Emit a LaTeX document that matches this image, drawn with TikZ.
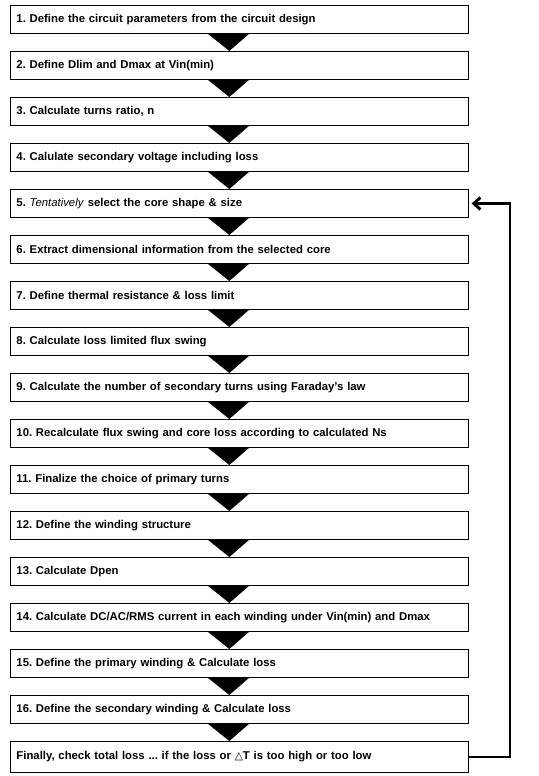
\documentclass[tikz,border=0pt]{standalone}
\usepackage{fontspec}
\setmainfont{Liberation Sans}
\newfontfamily\symfont{DejaVu Sans}
\usetikzlibrary{arrows.meta,positioning,calc}
\frenchspacing

\begin{document}
\begin{tikzpicture}[
  font=\fontsize{8.5pt}{10pt}\selectfont\bfseries,
  node distance=12.8pt,
  stepbox/.style={draw, line width=0.7pt, align=left, text width=334.5pt, inner xsep=4.5pt, inner ysep=0pt, minimum height=21pt, anchor=north west},
  funnel/.style={fill=black},
  fbarrow/.style={-{Straight Barb[length=5pt,width=9pt]}, line width=2.2pt, shorten >=2pt}
]
\useasboundingbox (0,0) rectangle (404.25pt,-582pt);

\node[stepbox] (s1) at (7.5pt,-3.75pt) {1. Define the circuit parameters from the circuit design};
\node[stepbox, below=of s1] (s2) {2. Define Dlim and Dmax at Vin(min)};
\node[stepbox, below=of s2] (s3) {3. Calculate turns ratio, n};
\node[stepbox, below=of s3] (s4) {4. Calulate secondary voltage including loss};
\node[stepbox, below=of s4] (s5) {5. \textmd{\textit{Tentatively}} select the core shape \& size};
\node[stepbox, below=of s5] (s6) {6. Extract dimensional information from the selected core};
\node[stepbox, below=of s6] (s7) {7. Define thermal resistance \& loss limit};
\node[stepbox, below=of s7] (s8) {8. Calculate loss limited flux swing};
\node[stepbox, below=of s8] (s9) {9. Calculate the number of secondary turns using Faraday's law};
\node[stepbox, below=of s9] (s10) {10. Recalculate flux swing and core loss according to calculated Ns};
\node[stepbox, below=of s10] (s11) {11. Finalize the choice of primary turns};
\node[stepbox, below=of s11] (s12) {12. Define the winding structure};
\node[stepbox, below=of s12] (s13) {13. Calculate Dpen};
\node[stepbox, below=of s13] (s14) {14. Calculate DC/AC/RMS current in each winding under Vin(min) and Dmax};
\node[stepbox, below=of s14] (s15) {15. Define the primary winding \& Calculate loss};
\node[stepbox, below=of s15] (s16) {16. Define the secondary winding \& Calculate loss};
\node[stepbox, below=of s16, minimum height=23.3pt] (s17) {Finally, check total loss ... if the loss or {\symfont\mdseries\fontsize{8pt}{10pt}\selectfont △}T is too high or too low};

% black funnels between the steps
\foreach \a/\b in {s1/s2,s2/s3,s3/s4,s4/s5,s5/s6,s6/s7,s7/s8,s8/s9,s9/s10,s10/s11,s11/s12,s12/s13,s13/s14,s14/s15,s15/s16,s16/s17}
  \fill[funnel] ($(\a.south)+(-23.6pt,0)$) -- ($(\a.south)+(7.1pt,0)$) -- ($(\b.north)+(-7.6pt,0)$) -- cycle;

% loop back to step 5
\coordinate (fbx) at (382.5pt,0);
\draw[fbarrow] (s17.east) -- (s17.east -| fbx) |- (s5.east);
\end{tikzpicture}
\end{document}
